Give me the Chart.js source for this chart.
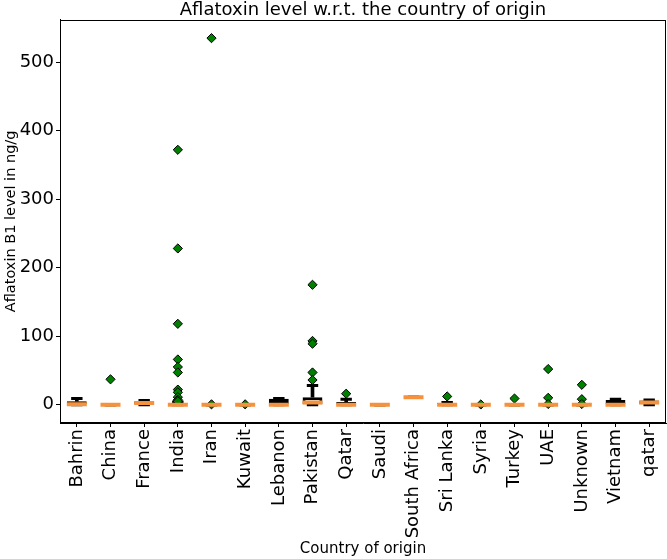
<!DOCTYPE html>
<html><head><meta charset="utf-8">
<script src="https://cdn.jsdelivr.net/npm/chart.js@4.4.0/dist/chart.umd.min.js"></script>
<style>html,body{margin:0;padding:0;background:#fff;overflow:hidden}#wrap{width:667px;height:559px;position:relative}</style>
</head><body><div id="wrap"><canvas id="c"></canvas></div>
<script>
const categories = ['Bahrin','China','France','India','Iran','Kuwait','Lebanon','Pakistan','Qatar','Saudi','South Africa','Sri Lanka','Syria','Turkey','UAE','Unknown','Vietnam','qatar'];
const q1          = [0, 0, 0,   0, 0, 0, 0,   0, 0, 0, 11, 0,   0, 0, 0, 0, 0, 0];
const median      = [0.5, 0, 2.5, 0, 0, 0, 0, 3, 0, 0, 11, 0,   0, 0, 0, 0, 0, 3];
const q3          = [5, 0, 5,   2, 0, 0, 8.5, 11, 4, 0, 11, 2.5, 0, 0, 0, 0, 7, 6];
const whiskerLow  = [0, 0, 0,   0, 0, 0, 0,   0, 0, 0, 11, 0,   0, 0, 0, 0, 0, 0];
const whiskerHigh = [9, 0, 6,   4, 0, 0, 9,   28, 8, 0, 11, 3,   0, 0, 0, 0, 8, 7];
const outliers = [
  [],                                              // Bahrin
  [37],                                            // China
  [],                                              // France
  [372, 228, 118, 66, 55, 47, 22, 18, 11, 7, 5],   // India
  [535, 0.5],                                      // Iran
  [0.5],                                           // Kuwait
  [],                                              // Lebanon
  [175, 93, 89, 47, 36],                           // Pakistan
  [16],                                            // Qatar
  [],                                              // Saudi
  [],                                              // South Africa
  [12],                                            // Sri Lanka
  [0.3],                                           // Syria
  [9],                                             // Turkey
  [52, 10, 1],                                     // UAE
  [29, 8, 1],                                      // Unknown
  [],                                              // Vietnam
  []                                               // qatar
];
const yTicks = [0, 100, 200, 300, 400, 500];
const yMin = -26.75, yMax = 561.75;

const boxData = categories.map((c, i) => [q1[i], q3[i]]);
const upperWhisker = categories.map((c, i) => [q3[i], whiskerHigh[i]]);
const lowerWhisker = categories.map((c, i) => [whiskerLow[i], q1[i]]);
const medianPts = categories.map((c, i) => ({x: c, y: median[i]}));
const capHiPts = categories.map((c, i) => ({x: c, y: whiskerHigh[i]}));
const capLoPts = categories.map((c, i) => ({x: c, y: whiskerLow[i]}));
const flierPts = [];
outliers.forEach((arr, i) => arr.forEach(v => flierPts.push({x: categories[i], y: v})));

Chart.defaults.font.family = "'DejaVu Sans', sans-serif";
Chart.defaults.color = '#000';

const bgPlugin = {
  id: 'bg',
  beforeDraw(chart) {
    const c = chart.ctx; c.save(); c.fillStyle = '#fff';
    c.fillRect(0, 0, chart.width, chart.height); c.restore();
  }
};
const framePlugin = {
  id: 'frame',
  afterDraw(chart) {
    const a = chart.chartArea, c = chart.ctx;
    c.save(); c.strokeStyle = '#000'; c.lineWidth = 1;
    c.strokeRect(Math.round(a.left) + 0.5, Math.round(a.top) + 0.5,
                 Math.round(a.right - a.left) - 1, Math.round(a.bottom - a.top) - 1);
    c.restore();
  }
};

new Chart(document.getElementById('c'), {
  type: 'bar',
  data: {
    labels: categories,
    datasets: [
      {type: 'line', data: medianPts, showLine: false, pointStyle: 'line', pointRadius: 10,
       pointBorderWidth: 4, pointBorderColor: '#f6923d', order: 0},
      {type: 'line', data: flierPts, showLine: false, pointStyle: 'rectRot', pointRadius: 4.6,
       pointBackgroundColor: '#008000', pointBorderColor: '#000', pointBorderWidth: 1, order: 1},
      {type: 'line', data: capHiPts, showLine: false, pointStyle: 'line', pointRadius: 5.7,
       pointBorderWidth: 3, pointBorderColor: '#000', order: 2},
      {type: 'line', data: capLoPts, showLine: false, pointStyle: 'line', pointRadius: 5.7,
       pointBorderWidth: 3, pointBorderColor: '#000', order: 2},
      {type: 'bar', data: upperWhisker, backgroundColor: '#000', barThickness: 3, grouped: false,
       borderWidth: 0, order: 3},
      {type: 'bar', data: lowerWhisker, backgroundColor: '#000', barThickness: 3, grouped: false,
       borderWidth: 0, order: 3},
      {type: 'bar', data: boxData, backgroundColor: '#fff', borderColor: '#000', borderWidth: 3,
       borderSkipped: false, barPercentage: 0.59, categoryPercentage: 1, grouped: false, order: 4}
    ]
  },
  options: {
    responsive: true, maintainAspectRatio: false, animation: false,
    layout: {padding: {right: 1}, autoPadding: false},
    plugins: {
      legend: {display: false}, tooltip: {enabled: false},
      title: {display: true, text: 'Aflatoxin level w.r.t. the country of origin',
              font: {size: 18, weight: 'normal', lineHeight: 1.1}, padding: {top: 0, bottom: 0}, fullSize: false, color: '#000'}
    },
    scales: {
      x: {
        type: 'category', offset: true,
        grid: {display: true, drawOnChartArea: false, drawTicks: true, tickLength: 4, color: '#000', offset: false},
        border: {display: true, color: '#000'},
        ticks: {font: {size: 18}, maxRotation: 90, minRotation: 90, padding: 2, color: '#000', autoSkip: false},
        title: {display: true, text: 'Country of origin', font: {size: 15}, padding: {top: 0, bottom: 1}, color: '#000'},
        afterFit(scale) { scale.height = 136; scale.paddingLeft = 0; scale.paddingRight = 0; }
      },
      y: {
        type: 'linear', min: yMin, max: yMax,
        grid: {display: true, drawOnChartArea: false, drawTicks: true, tickLength: 4, color: '#000'},
        border: {display: true, color: '#000'},
        ticks: {font: {size: 18}, padding: 2, color: '#000'},
        afterBuildTicks(scale) { scale.ticks = yTicks.map(v => ({value: v})); },
        title: {display: true, text: 'Aflatoxin B1 level in ng/g', font: {size: 14.5}, padding: {top: 3, bottom: 0}, color: '#000'},
        afterFit(scale) { scale.width = 60; scale.paddingTop = 0; scale.paddingBottom = 0; }
      }
    }
  },
  plugins: [bgPlugin, framePlugin]
});
</script></body></html>
